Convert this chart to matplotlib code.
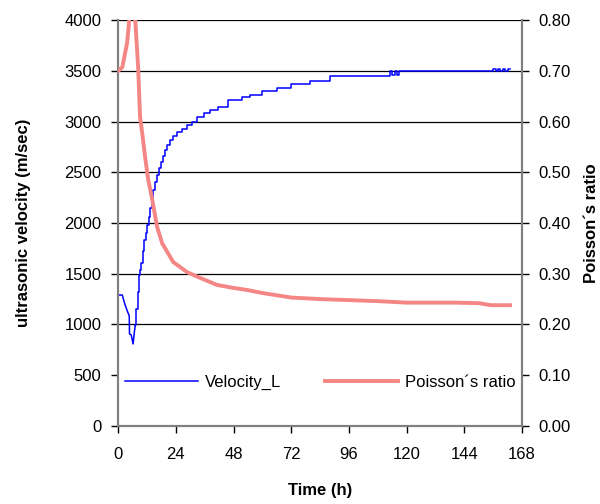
import matplotlib
matplotlib.use("Agg")
import matplotlib.pyplot as plt

plt.rcParams['font.family'] = ['Liberation Sans', 'DejaVu Sans']

# Velocity_L (m/sec) vs time (h)
vel_t = [0, 1.7, 2.5, 3.5, 4.6, 4.7, 5.4, 6.2, 6.6, 7.1, 7.6, 8.1, 8.7,
         9.1, 9.6, 10.2, 10.8, 11.4, 12.1, 12.7, 13.3, 14.0, 14.6, 15.4,
         16.2, 17.0, 17.8, 18.6, 19.5, 20.5, 21.6, 23.0, 24.5, 26.5, 28.7,
         30.5, 32.8, 35.5, 38, 41.6, 45.7, 51.6, 55, 60, 66, 72, 80, 88,
         100, 112, 113, 114, 115, 116, 117, 130, 155, 156, 157, 158, 159,
         160, 161, 162, 163]
vel = [1290, 1290, 1220, 1150, 1084, 906, 897, 808, 900, 995, 1150, 1320,
       1488, 1540, 1606, 1720, 1833, 1900, 1980, 2060, 2148, 2240, 2325,
       2400, 2470, 2542, 2600, 2660, 2719, 2770, 2818, 2860, 2897, 2930,
       2966, 3000, 3044, 3080, 3113, 3143, 3212, 3241, 3261, 3300, 3330,
       3370, 3400, 3450, 3450, 3450, 3500, 3460, 3500, 3460, 3500, 3500,
       3500, 3520, 3500, 3520, 3500, 3520, 3500, 3520, 3520]

# Poisson's ratio vs time (h)
poi_t = [0, 1.7, 3.7, 4.6, 5.5, 7.1, 8.3, 9.1, 10, 11.2, 12.5, 14, 16.2,
         18.3, 22.9, 28.7, 34, 41, 48, 53.6, 60, 72, 84, 96, 108, 120, 140,
         150, 155, 160, 163]
poi = [0.70, 0.707, 0.755, 0.80, 0.86, 0.80, 0.707, 0.609, 0.577, 0.53,
       0.485, 0.45, 0.392, 0.36, 0.323, 0.303, 0.292, 0.278, 0.272, 0.268,
       0.262, 0.253, 0.250, 0.248, 0.246, 0.243, 0.243, 0.242, 0.238, 0.238,
       0.238]

x_ticks = [0, 24, 48, 72, 96, 120, 144, 168]

fig = plt.figure(figsize=(6, 5.04), dpi=100)
ax = fig.add_axes([0.197, 0.155, 0.673, 0.805])
ax2 = ax.twinx()

for y in range(500, 4001, 500):
    ax.axhline(y, color='black', lw=0.9, zorder=1)

# the early dip is a smooth line, the rest is quantised steps
n_dip = 10
ax.plot(vel_t[:n_dip], vel[:n_dip], color='#0000ff', lw=1.1, zorder=3)
l1, = ax.plot(vel_t[n_dip - 1:], vel[n_dip - 1:], color='#0000ff', lw=1.1,
              zorder=3, drawstyle='steps-post', label='Velocity_L')
l2, = ax2.plot(poi_t, poi, color='#f58686', lw=2.8, zorder=3,
               label='Poisson\u00b4s ratio')

ax.set_xlim(0, 168)
ax.set_ylim(0, 4000)
ax2.set_ylim(0, 0.8)
ax.set_xticks(x_ticks)
ax.set_yticks(range(0, 4001, 500))
ax2.set_yticks([i / 10 for i in range(0, 9)])
ax2.set_yticklabels([f"{i / 10:.2f}" for i in range(0, 9)])

for a in (ax, ax2):
    for s in a.spines.values():
        s.set_color('#808080')
        s.set_linewidth(1.5)
    a.spines['top'].set_visible(False)
    a.tick_params(labelsize=12, length=5, color='black', width=1, pad=7)
ax.tick_params(axis='x', pad=10)

ax.set_xlabel('Time (h)', fontsize=12, fontweight='bold', labelpad=15)
ax.set_ylabel('ultrasonic velocity (m/sec)', fontsize=12, fontweight='bold', labelpad=24)
ax2.set_ylabel('Poisson\u00b4s ratio', fontsize=12, fontweight='bold', labelpad=9)

ax2.set_zorder(ax.get_zorder() + 1)
ax2.patch.set_visible(False)

# legend lives on the lower axes so the twin axes' spines draw over it
leg = ax.legend([l1, l2], ['Velocity_L', 'Poisson\u00b4s ratio'], loc='center',
                bbox_to_anchor=(0.5, 0.106), ncol=2, frameon=True, fontsize=12,
                handlelength=4.4, handletextpad=0.4, columnspacing=2.6,
                borderpad=0.4, fancybox=False)
leg.get_frame().set_edgecolor('white')
leg.get_frame().set_facecolor('white')
leg.get_frame().set_alpha(1)
leg.set_zorder(2)

fig.savefig('out.png', dpi=100)
